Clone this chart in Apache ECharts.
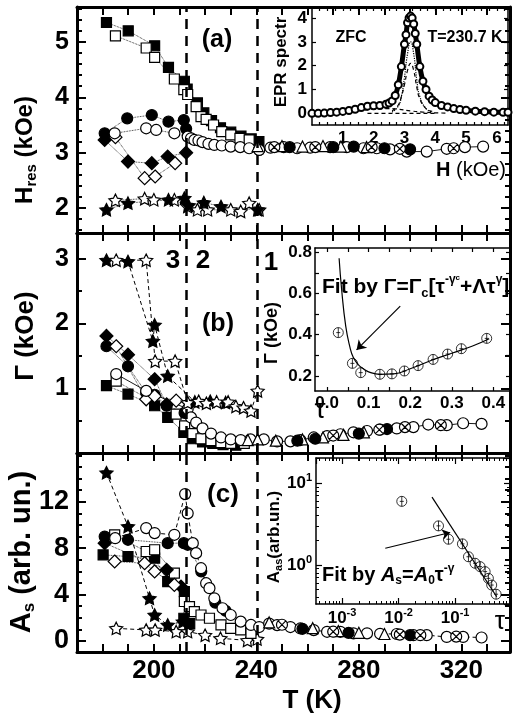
<!DOCTYPE html>
<html>
<head>
<meta charset="utf-8">
<script src="https://cdn.jsdelivr.net/npm/echarts@6/dist/echarts.min.js"></script>
<style>
  html, body { margin: 0; background: #fff; }
  #c { width: 513px; height: 717px; }
</style>
</head>
<body>
<div id="c"></div>
<script>
const FONT = '"Liberation Sans", Arial, sans-serif'

// ---------- panel (a): H_res (kOe) vs T (K)
const aSqFilled = [[181.5,5.35],[190,5.2],[200.3,4.93],[205.7,4.54],[211.9,4.29],[213,4.15],[217,3.9],[219.5,3.72],[222.5,3.58],[226,3.45],[230,3.37],[234,3.3],[238,3.25],[241,3.2]]
const aSqOpen = [[185,5.11],[197,4.89],[200.3,4.72],[208,4.33],[211.7,4.14],[213.2,4.05],[216.5,3.83],[218.4,3.65],[220.4,3.6],[223.3,3.5],[226.5,3.38],[230,3.32],[233.6,3.26],[237.2,3.23]]
const aCiFilled = [[180.8,3.35],[189.6,3.62],[199.2,3.68],[205.7,3.56],[211.7,3.59],[212.6,3.43]]
const aCiOpen = [[184.7,3.35],[197,3.44],[200.9,3.41],[208,3.35],[213.2,3.29],[214.5,3.26],[215.8,3.23],[217.4,3.22],[219,3.19],[221.3,3.16],[223.6,3.14],[226.5,3.13],[230,3.11],[233.7,3.1],[237.2,3.08],[241.1,3.05]]
const aCiHigh = [[241.1,3.05],[245.5,3.09],[250.7,3.1],[255.9,3.08],[261,3.09],[268.8,3.1],[275.3,3.1],[281.8,3.08],[287,3.08],[292.2,3.06],[298.7,3.02],[306.5,3.02],[314.3,3.07],[321.4,3.1],[328.5,3.11]]
const aTri = [[240.5,3.12],[250,3.12],[258,3.11],[266,3.12],[273,3.11],[283,3.1]]
const aCross = [[247,3.1],[263,3.1],[285,3.1],[296,3.07],[317,3.08]]
const aDot = [[253,3.1],[270,3.1],[278,3.11],[290,3.08],[300,3.06]]
const aDmFilled = [[180.8,3.23],[189.9,2.84],[199.2,2.81],[205.4,2.93],[212.6,3.0]]
const aDmOpen = [[185,3.28],[196.4,2.54],[200.5,2.57],[208.3,2.81]]
const aStFilled = [[181.5,1.97],[189.9,2.09],[205.7,2.15],[211.9,2.18],[213.5,2.05],[219.5,2.1],[226.2,2.03],[240.5,1.97]]
const aStOpen = [[185,2.14],[196.4,2.17],[200,2.15],[208,2.15],[213.2,2.03],[217,1.97],[221,1.97],[230,1.97],[233.9,1.94],[237.2,2.09],[241.1,1.97]]

// ---------- panel (b): Gamma (kOe) vs T (K)
const bStFilled = [[181.5,2.98],[189.9,2.96],[199.6,1.73],[200.3,1.98],[205.4,1.19],[216,0.79],[222,0.8],[228,0.78]]
const bStOpen = [[185.3,2.98],[197,2.98],[200.5,1.42],[208.3,1.42],[213.2,0.78],[217.5,0.8],[220.5,0.77],[224.5,0.79],[229,0.79],[232,0.72],[235,0.7],[237.9,0.65],[240.5,0.96]]
const bDmFilled = [[181.5,1.81],[189.9,1.52],[200.3,1.14],[205,0.75]]
const bDmOpen = [[185.3,1.65],[197,0.83],[200.3,0.88],[208.7,0.81]]
const bCiFilled = [[181.5,1.65],[189.9,1.34],[197,0.93],[200.3,0.9],[205,0.73],[212,0.62]]
const bCiOpen = [[185.3,1.22],[197,0.96],[213.2,0.68],[214.5,0.55],[216.5,0.47],[219,0.38],[222.3,0.3],[226.2,0.24],[230,0.21],[233.9,0.2],[237.7,0.21],[242.9,0.21],[248.1,0.18],[253.3,0.18],[257.2,0.2],[262.4,0.24],[267.6,0.26],[272.8,0.29],[277.9,0.32],[283.2,0.34],[288.3,0.36],[294.8,0.38],[301.3,0.4],[307.1,0.44],[314.3,0.43],[320.7,0.46],[327.9,0.45]]
const bSqFilled = [[181.5,1.04],[189.9,0.91],[200.3,0.73],[205.4,0.55],[211.7,0.32],[215,0.22],[219,0.17],[223,0.15],[227,0.13],[232,0.12]]
const bSqOpen = [[185.3,1.11],[208.7,0.6],[212,0.42],[215.2,0.3],[218.4,0.22],[222.3,0.19],[226.2,0.16],[230,0.15],[235.3,0.15]]
const bTri = [[236.7,0.2],[240.5,0.21],[247.6,0.19],[258,0.21],[266,0.24],[274,0.28],[282,0.32]]
const bCross = [[270,0.27],[288,0.36],[298,0.4],[312,0.43]]
const bDot = [[256,0.19],[263,0.22],[280,0.3],[291,0.37]]

// ---------- panel (c): A_s (arb. un.) vs T (K)
const cStFilled = [[181.5,14.5],[189.9,9.87],[198.3,3.68],[200.3,2.24],[205.4,1.38],[211.3,1.67]]
const cStOpen = [[185.3,1.09],[197,0.95],[200.5,0.95],[208.7,0.81],[213.2,0.81],[220,0.5],[226,0.23],[236.5,0.05],[240.3,0.17]]
const cCiFilled = [[180.8,9.0],[189.9,8.72],[205.4,8.43],[211.7,8.43],[213.2,8.29],[218.5,6.0],[224,3.3],[228,2.6]]
const cCiOpen = [[184.9,8.86],[197,9.73],[200.3,9.3],[208,9.15],[212.2,12.66],[213.2,11.0],[215.2,8.43],[216.5,7.57],[218.4,6.27],[220.4,4.98],[221.7,4.55],[223.6,3.68],[226.8,2.82],[230,2.24],[233.9,1.67],[237.9,1.38],[241.1,1.2],[245,1.5],[248.1,1.37],[253.3,1.2],[257.2,1.08],[262.4,0.94],[267.6,0.79],[272.8,0.79],[277.9,0.66],[283.2,0.66],[288.3,0.62],[294.8,0.6],[301.3,0.5],[306.5,0.5],[314.3,0.35],[320.7,0.35],[327.9,0.3]]
const cSqFilled = [[180.2,7.42],[189.9,7.28],[200.3,7.14],[205.4,5.12],[211.9,4.26],[211.7,1.96],[214,1.5]]
const cSqOpen = [[184.7,9.15],[197,7.71],[200.3,7.86],[208,5.84],[211.9,3.4],[213.9,2.96],[215.8,2.53],[218.4,2.24],[221.7,1.96],[226.2,1.38],[230,1.09],[233.9,0.95],[237.9,0.66]]
const cDmFilled = [[180.8,8.43],[205,6.13],[210.6,4.69]]
const cDmOpen = [[184.7,6.85],[196.4,6.7],[200.3,5.99],[208,4.83]]
const cTri = [[245,1.6],[262,1.1],[272,0.85],[280,0.7],[290,0.6]]
const cCross = [[250,1.4],[270,0.8],[296,0.55],[304,0.5],[318,0.38]]
const cDot = [[258,1.05],[276,0.7],[300,0.5]]

// regime borders (K)
const borders = [212.5, 240.5]

// ---------- inset (a): EPR spectrum
const specH = [0,0.2,0.4,0.6,0.8,1.0,1.2,1.4,1.6,1.8,2.0,2.2,2.4,2.5,2.6,2.7,2.8,2.9,3.0,3.05,3.1,3.15,3.2,3.25,3.3,3.35,3.4,3.5,3.6,3.7,3.8,3.9,4.0,4.2,4.4,4.6,4.8,5.0,5.3,5.6,5.9,6.2,6.36]
const specV = [0,0,0.01,0.03,0.05,0.08,0.12,0.17,0.24,0.3,0.32,0.33,0.38,0.43,0.52,0.75,1.2,1.96,2.9,3.3,3.8,4.0,4.08,4.0,3.75,3.35,2.9,1.96,1.35,1.0,0.72,0.56,0.45,0.33,0.27,0.2,0.16,0.13,0.09,0.07,0.05,0.04,0.04]
const cmpH = [2.6,2.8,2.9,3.0,3.1,3.2,3.3,3.4,3.5,3.7,3.9]
const cmpDotV = [0.05,0.3,0.7,1.5,2.5,3.0,2.5,1.4,0.7,0.2,0.06]
const cmpDashV = [0.1,0.35,0.7,1.2,1.8,2.1,1.8,1.1,0.6,0.2,0.08]
const broadH = [0.8,1.2,1.6,2.0,2.4,2.8,3.2,3.6,4.0,4.4]
const broadV = [0.02,0.06,0.12,0.17,0.2,0.17,0.1,0.05,0.02,0.01]
const baseH = [1.8,4.0]
const baseV = [0,0]

// ---------- inset (b): Gamma vs tau
const tauB = [0.027,0.061,0.081,0.127,0.156,0.186,0.219,0.255,0.29,0.323,0.384]
const gamB = [0.41,0.261,0.216,0.208,0.21,0.224,0.25,0.28,0.306,0.332,0.382]
const fitTauB = [0.029,0.035,0.045,0.055,0.063,0.075,0.087,0.1,0.127,0.16,0.2,0.25,0.3,0.35,0.39]
const fitGamB = [0.77,0.62,0.44,0.34,0.29,0.255,0.235,0.22,0.208,0.21,0.235,0.275,0.31,0.345,0.38]
const arrowB = [[0.176,0.538],[0.071,0.326]]

// ---------- inset (c): A_as vs tau (log-log)
const tauC = [0.0114,0.0508,0.0762,0.1346,0.172,0.225,0.276,0.339,0.387,0.443,0.53]
const ampC = [5.97,3.0,2.06,1.81,1.26,1.05,0.955,0.83,0.687,0.569,0.44]
const fitTauC = [0.039,0.543]
const fitAmpC = [6.74,0.41]
const arrowC = [[0.00582,1.6],[0.0817,2.49]]

// ---------- ticks
const tTicks = [180,190,200,210,220,230,240,250,260,270,280,290,300,310,320,330]
const tLabels = [200,240,280,320]
const aMajor = [2,3,4,5]
const aMinor = [1.6,1.8,2.2,2.4,2.6,2.8,3.2,3.4,3.6,3.8,4.2,4.4,4.6,4.8,5.2,5.4,5.6]
const bMajor = [1,2,3]
const bMinor = [0.5,1.5,2.5]
const cMajor = [0,4,8,12]
const cMinor = [1,2,3,5,6,7,9,10,11,13,14,15,16]
const specXTicks = [0.25,0.5,0.75,1,1.25,1.5,1.75,2,2.25,2.5,2.75,3,3.25,3.5,3.75,4,4.25,4.5,4.75,5,5.25,5.5,5.75,6,6.25]
const specXLabels = [1,2,3,4,5,6]
const specYTicks = [0,1,2,3,4]
const tauBTicks = [0,0.05,0.1,0.15,0.2,0.25,0.3,0.35,0.4]
const tauBLabels = [0,0.1,0.2,0.3,0.4]
const gamBTicks = [0.2,0.3,0.4,0.5,0.6,0.7,0.8]
const gamBLabels = [0.2,0.4,0.6,0.8]
const cxLo = -3.46, cxHi = -0.03, cyLo = -0.476, cyHi = 1.305

const STAR = 'path://M0,-10L2.94,-4.05L9.51,-3.09L4.76,1.55L5.88,8.09L0,5L-5.88,8.09L-4.76,1.55L-9.51,-3.09L-2.94,-4.05Z'
const CROSSC = 'path://M10,0A10,10 0 1,1 -10,0A10,10 0 1,1 10,0ZM-7,-7L7,7M7,-7L-7,7'
const ERRC = 'path://M10,0A10,10 0 1,1 -10,0A10,10 0 1,1 10,0ZM0,-10L0,10M-4,0L4,0'

const xAxis = [], yAxis = []
function ax(list, o) {
  list.push(Object.assign({
    type: 'value', splitLine: {show: false}, axisLine: {show: false, onZero: false},
    axisTick: {show: false}, axisLabel: {show: false}
  }, o))
  return list.length - 1
}
const line3 = {show: true, onZero: false, lineStyle: {color: '#000', width: 3}}
const line15 = {show: true, onZero: false, lineStyle: {color: '#000', width: 1.5}}
const tk = (len, vals, w) => ({show: true, inside: true, length: len, customValues: vals, lineStyle: {color: '#000', width: w || 2}})
const lab = (size, extra) => Object.assign({show: true, color: '#000', fontSize: size, fontWeight: 'bold', fontFamily: FONT}, extra)

// main panels
function mainAxes(g, yr, major, minor, ls) {
  const xb = ax(xAxis, {gridIndex: g, min: 170, max: 339, position: 'bottom', axisLine: line3, axisTick: tk(8, tTicks),
    axisLabel: lab(26, {show: g === 2, customValues: tLabels, margin: 6})})
  ax(xAxis, {gridIndex: g, min: 170, max: 339, position: 'top', axisLine: line3, axisTick: tk(8, tTicks)})
  const yl = ax(yAxis, {gridIndex: g, min: yr[0], max: yr[1], position: 'left', axisLine: line3, axisTick: tk(9, major),
    axisLabel: lab(ls, {customValues: major, margin: 8})})
  ax(yAxis, {gridIndex: g, min: yr[0], max: yr[1], position: 'left', axisTick: tk(5, minor)})
  ax(yAxis, {gridIndex: g, min: yr[0], max: yr[1], position: 'right', axisLine: line3, axisTick: tk(9, major)})
  ax(yAxis, {gridIndex: g, min: yr[0], max: yr[1], position: 'right', axisTick: tk(5, minor)})
  return [xb, yl]
}
const PA = mainAxes(0, [1.55, 5.63], aMajor, aMinor, 25)
const PB = mainAxes(1, [0, 3.4], bMajor, bMinor, 25)
const PC = mainAxes(2, [-0.95, 16.2], cMajor, cMinor, 27)

// inset (a)
const IA = [
  ax(xAxis, {gridIndex: 3, min: 0, max: 6.36, position: 'bottom', axisLine: line15, axisTick: tk(3, specXTicks, 1.2),
    axisLabel: lab(17, {customValues: specXLabels, margin: 5})}),
  ax(yAxis, {gridIndex: 3, min: -0.49, max: 4.42, position: 'left', axisLine: line15, axisTick: tk(4, specYTicks, 1.2),
    axisLabel: lab(17, {customValues: specYTicks, margin: 5})})
]
ax(xAxis, {gridIndex: 3, min: 0, max: 6.36, position: 'top', axisLine: line15, axisTick: tk(3, specXTicks, 1.2)})
ax(yAxis, {gridIndex: 3, min: -0.49, max: 4.42, position: 'right', axisLine: line15, axisTick: tk(4, specYTicks, 1.2)})

// inset (b)
const IB = [
  ax(xAxis, {gridIndex: 4, min: -0.029, max: 0.44, position: 'bottom', axisLine: line15, axisTick: tk(4, tauBTicks, 1.2),
    axisLabel: lab(17, {customValues: tauBLabels, margin: 4, formatter: v => v.toFixed(1)})}),
  ax(yAxis, {gridIndex: 4, min: 0.127, max: 0.82, position: 'left', axisLine: line15, axisTick: tk(4, gamBTicks, 1.2),
    axisLabel: lab(17, {customValues: gamBLabels, margin: 3, formatter: v => v.toFixed(1)})})
]
ax(xAxis, {gridIndex: 4, min: -0.029, max: 0.44, position: 'top', axisLine: line15, axisTick: tk(4, tauBTicks, 1.2)})
ax(yAxis, {gridIndex: 4, min: 0.127, max: 0.82, position: 'right', axisLine: line15, axisTick: tk(4, gamBTicks, 1.2)})

// inset (c), log-log
const powRich = {
  b: {fontSize: 17, fontWeight: 'bold', fontFamily: FONT, color: '#000', lineHeight: 22},
  s: {fontSize: 11, fontWeight: 'bold', fontFamily: FONT, color: '#000', lineHeight: 11, verticalAlign: 'top'}
}
const pow10 = v => '{b|10}{s|' + Math.round(Math.log10(v)) + '}'
const logTick = {show: true, inside: true, length: 6, lineStyle: {color: '#000', width: 1.2}}
const IC = [
  ax(xAxis, {gridIndex: 5, type: 'log', logBase: 10, min: Math.pow(10, cxLo), max: Math.pow(10, cxHi), position: 'bottom',
    axisLine: line15, axisTick: logTick,
    axisLabel: {show: true, showMinLabel: false, showMaxLabel: false, formatter: pow10, rich: powRich, margin: 3}}),
  ax(yAxis, {gridIndex: 5, type: 'log', logBase: 10, min: Math.pow(10, cyLo), max: Math.pow(10, cyHi), position: 'left',
    axisLine: line15, axisTick: logTick,
    axisLabel: {show: true, showMinLabel: false, showMaxLabel: false, formatter: pow10, rich: powRich, margin: 4}})
]
ax(xAxis, {gridIndex: 5, type: 'log', logBase: 10, min: Math.pow(10, cxLo), max: Math.pow(10, cxHi), position: 'top', axisLine: line15, axisTick: logTick})
ax(yAxis, {gridIndex: 5, type: 'log', logBase: 10, min: Math.pow(10, cyLo), max: Math.pow(10, cyHi), position: 'right', axisLine: line15, axisTick: logTick})
const minorLog = (lo, hi) => {
  const out = []
  for (let d = -4; d <= 1; d++) for (let k = 2; k <= 9; k++) {
    const v = d + Math.log10(k)
    if (v > lo && v < hi) out.push(v)
  }
  return out
}
const mX = minorLog(cxLo, cxHi), mY = minorLog(cyLo, cyHi)
ax(xAxis, {gridIndex: 5, min: cxLo, max: cxHi, position: 'bottom', axisTick: tk(3, mX, 1)})
ax(xAxis, {gridIndex: 5, min: cxLo, max: cxHi, position: 'top', axisTick: tk(3, mX, 1)})
ax(yAxis, {gridIndex: 5, min: cyLo, max: cyHi, position: 'left', axisTick: tk(3, mY, 1)})
ax(yAxis, {gridIndex: 5, min: cyLo, max: cyHi, position: 'right', axisTick: tk(3, mY, 1)})

// ---------- series
const SYM = {
  sq: ['rect', 10], ci: ['circle', 11], dm: ['diamond', 13], st: [STAR, 13],
  tri: ['triangle', 11], cx: [CROSSC, 11]
}
const dotted = {color: '#000', width: 0.8, type: 'dotted'}
const dashed = {color: '#000', width: 1, type: [4, 3]}
const solid = {color: '#000', width: 0.9}
function pts(P, data, kind, filled, ls) {
  const s = SYM[kind]
  return {
    type: 'line', xAxisIndex: P[0], yAxisIndex: P[1], data, symbol: s[0], symbolSize: s[1],
    symbolKeepAspect: true, showSymbol: true, silent: true, animation: false,
    itemStyle: {color: filled ? '#000' : '#fff', borderColor: '#000', borderWidth: 1.2},
    lineStyle: ls || {width: 0, opacity: 0}
  }
}
function borderLines(P) {
  return {
    type: 'line', xAxisIndex: P[0], yAxisIndex: P[1], data: [], silent: true,
    markLine: {silent: true, animation: false, symbol: ['none', 'none'], label: {show: false},
      lineStyle: {color: '#000', width: 2.5, type: [10, 7]},
      data: borders.map(t => ({xAxis: t}))}
  }
}
const zip = (a, b) => a.map((v, i) => [v, b[i]])

const series = [
  borderLines(PA), borderLines(PB), borderLines(PC),
  // (a)
  pts(PA, aStOpen, 'st', false, dotted), pts(PA, aStFilled, 'st', true, dotted),
  pts(PA, aDmOpen, 'dm', false, dotted), pts(PA, aDmFilled, 'dm', true, dotted),
  pts(PA, aSqFilled, 'sq', true, dotted), pts(PA, aSqOpen, 'sq', false, dotted),
  pts(PA, aCiFilled, 'ci', true, dotted), pts(PA, aCiOpen, 'ci', false, dotted),
  pts(PA, aCiHigh, 'ci', false, solid), pts(PA, aTri, 'tri', false), pts(PA, aDot, 'ci', true), pts(PA, aCross, 'cx', false),
  // (b)
  pts(PB, bSqFilled, 'sq', true, dotted), pts(PB, bSqOpen, 'sq', false, dotted),
  pts(PB, bCiFilled, 'ci', true, dotted), pts(PB, bDmFilled, 'dm', true, dotted), pts(PB, bDmOpen, 'dm', false, dotted),
  pts(PB, bCiOpen, 'ci', false, solid), pts(PB, bTri, 'tri', false), pts(PB, bDot, 'ci', true), pts(PB, bCross, 'cx', false),
  pts(PB, bStFilled, 'st', true, dashed), pts(PB, bStOpen, 'st', false, dashed),
  // (c)
  pts(PC, cStOpen, 'st', false, dashed), pts(PC, cStFilled, 'st', true, dashed),
  pts(PC, cSqFilled, 'sq', true, dotted), pts(PC, cSqOpen, 'sq', false, dotted),
  pts(PC, cDmFilled, 'dm', true, dotted), pts(PC, cDmOpen, 'dm', false, dotted),
  pts(PC, cCiFilled, 'ci', true, dotted), pts(PC, cCiOpen, 'ci', false, dashed),
  pts(PC, cTri, 'tri', false), pts(PC, cDot, 'ci', true), pts(PC, cCross, 'cx', false),
  // inset (a)
  {type: 'line', xAxisIndex: IA[0], yAxisIndex: IA[1], data: zip(specH, specV), smooth: true, silent: true,
    symbol: 'circle', symbolSize: 7, itemStyle: {color: '#fff', borderColor: '#000', borderWidth: 2},
    lineStyle: {color: '#000', width: 5}},
  {type: 'line', xAxisIndex: IA[0], yAxisIndex: IA[1], data: zip(cmpH, cmpDotV), smooth: true, silent: true, symbol: 'none',
    lineStyle: {color: '#000', width: 1.2, type: 'dotted'}},
  {type: 'line', xAxisIndex: IA[0], yAxisIndex: IA[1], data: zip(cmpH, cmpDashV), smooth: true, silent: true, symbol: 'none',
    lineStyle: {color: '#000', width: 1.2, type: [4, 3]}},
  {type: 'line', xAxisIndex: IA[0], yAxisIndex: IA[1], data: zip(broadH, broadV), smooth: true, silent: true, symbol: 'none',
    lineStyle: {color: '#000', width: 1.2, type: [4, 3]}},
  {type: 'line', xAxisIndex: IA[0], yAxisIndex: IA[1], data: zip(baseH, baseV), silent: true, symbol: 'none',
    lineStyle: {color: '#000', width: 1.2, type: [4, 3]}},
  // inset (b)
  {type: 'line', xAxisIndex: IB[0], yAxisIndex: IB[1], data: zip(fitTauB, fitGamB), smooth: true, silent: true, symbol: 'none',
    lineStyle: {color: '#000', width: 1.2},
    markLine: {silent: true, animation: false, symbol: ['none', 'arrow'], symbolSize: 9, label: {show: false},
      lineStyle: {color: '#000', width: 1.2, type: 'solid'},
      data: [[{coord: arrowB[0]}, {coord: arrowB[1]}]]}},
  {type: 'scatter', xAxisIndex: IB[0], yAxisIndex: IB[1], data: zip(tauB, gamB), silent: true,
    symbol: ERRC, symbolSize: 10, itemStyle: {color: 'rgba(255,255,255,0)', borderColor: '#000', borderWidth: 1}},
  // inset (c)
  {type: 'line', xAxisIndex: IC[0], yAxisIndex: IC[1], data: zip(fitTauC, fitAmpC), silent: true, symbol: 'none',
    lineStyle: {color: '#000', width: 1.2},
    markLine: {silent: true, animation: false, symbol: ['none', 'arrow'], symbolSize: 8, label: {show: false},
      lineStyle: {color: '#000', width: 1.2, type: 'solid'},
      data: [[{coord: arrowC[0]}, {coord: arrowC[1]}]]}},
  {type: 'scatter', xAxisIndex: IC[0], yAxisIndex: IC[1], data: zip(tauC, ampC), silent: true,
    symbol: ERRC, symbolSize: 10, itemStyle: {color: 'rgba(255,255,255,0)', borderColor: '#000', borderWidth: 1}}
]

// ---------- texts
const txt = (x, y, text, size, extra) => ({type: 'text', x, y, z: 100, silent: true,
  style: Object.assign({text, fontSize: size, fontWeight: 'bold', fontFamily: FONT, fill: '#000', align: 'center', verticalAlign: 'middle'}, extra)})
const r = (size, o) => Object.assign({fontSize: size, fontWeight: 'bold', fontFamily: FONT, fill: '#000'}, o)
const sub = size => r(size, {verticalAlign: 'bottom', lineHeight: size})
const sup = size => r(size, {verticalAlign: 'top', lineHeight: size})
const ROT = Math.PI / 2

const graphic = [
  txt(217, 40, '(a)', 25), txt(218, 324, '(b)', 25), txt(223, 495, '(c)', 26),
  txt(173, 261, '3', 26), txt(203, 261, '2', 26), txt(271, 263, '1', 26),
  txt(312, 701, 'T (K)', 26),
  Object.assign(txt(25, 150, '{m|H}{s|res}{m| (kOe)}', 24, {rich: {m: r(24, {lineHeight: 28}), s: sub(15)}}), {rotation: ROT}),
  Object.assign(txt(26, 336, 'Γ (kOe)', 26), {rotation: ROT}),
  Object.assign(txt(22, 552, '{m|A}{s|s}{m| (arb. un.)}', 29, {rich: {m: r(29, {lineHeight: 32}), s: sub(17)}}), {rotation: ROT}),
  // inset (a)
  txt(351, 38, 'ZFC', 16), txt(465, 38, 'T=230.7 K', 16),
  txt(471, 170, '{b|H} {n|(kOe)}', 20, {rich: {b: r(20), n: r(20, {fontWeight: 'normal'})}}),
  Object.assign(txt(281, 62, 'EPR spectr', 17), {rotation: ROT}),
  // inset (b)
  Object.assign(txt(272, 333, 'Γ (kOe)', 18), {rotation: ROT}),
  txt(320, 410, 'τ', 28, {fontWeight: 'normal'}),
  txt(322, 287, '{n|Fit by Γ=Γ}{sb|c}{n|[τ}{sp|-γ}{spc|c}{n|+Λτ}{sp|γ}{n|]}', 21,
    {align: 'left', rich: {n: r(21, {lineHeight: 26}), sb: sub(13), sp: sup(12), spc: r(8, {verticalAlign: 'top', lineHeight: 16})}}),
  // inset (c)
  Object.assign(txt(274, 537, '{m|A}{s|as}{m|(arb.un.)}', 17, {rich: {m: r(17, {lineHeight: 20}), s: sub(11)}}), {rotation: ROT}),
  txt(500, 622, 'τ', 26, {fontWeight: 'normal'}),
  txt(322, 575, '{n|Fit by }{i|A}{sb|s}{n|=}{i|A}{sb|0}{n|τ}{sp|-γ}', 20,
    {align: 'left', rich: {n: r(20, {lineHeight: 24}), i: r(20, {fontStyle: 'italic', lineHeight: 24}), sb: sub(12), sp: sup(12)}})
]

const chart = echarts.init(document.getElementById('c'))
chart.setOption({
  backgroundColor: '#fff',
  animation: false,
  grid: [
    {left: 77, right: 3, top: 7, height: 226},
    {left: 77, right: 3, top: 233, height: 220},
    {left: 77, right: 3, top: 453, height: 199},
    {left: 312, right: 5, top: 8, height: 117, show: true, backgroundColor: '#fff', borderWidth: 0},
    {left: 315, right: 3, top: 248, height: 143, show: true, backgroundColor: '#fff', borderWidth: 0},
    {left: 316, right: 3, top: 458, height: 146, show: true, backgroundColor: '#fff', borderWidth: 0}
  ],
  xAxis,
  yAxis,
  series,
  graphic
})
</script>
</body>
</html>
